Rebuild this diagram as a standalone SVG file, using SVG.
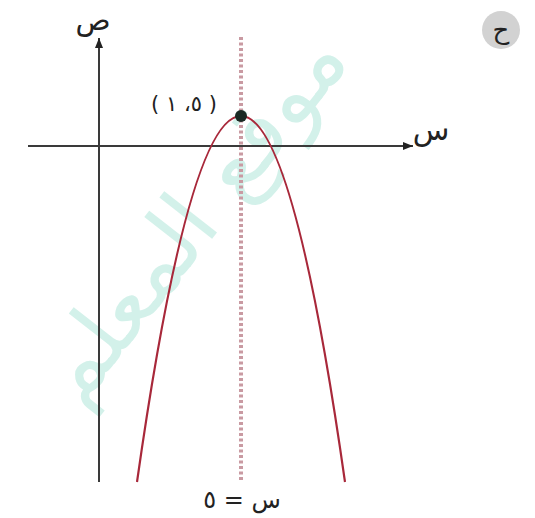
<svg xmlns="http://www.w3.org/2000/svg" width="535" height="518" viewBox="0 0 535 518">
  <style>
    .axis { stroke: #3a3a3a; stroke-width: 2; fill: none; }
    .curve { stroke: #a8283a; stroke-width: 2.2; fill: none; }
    .sym { stroke: #c99aa2; stroke-width: 4; stroke-dasharray: 3 2.5; fill: none; }
    .lbl { font-family: "DejaVu Sans", "Noto Sans", sans-serif; fill: #222; }
    .wm { font-family: "DejaVu Sans", sans-serif; fill: #d3f1ea; }
  </style>
  <defs>
    <marker id="arr" viewBox="0 0 10 10" refX="10" refY="5" markerWidth="10" markerHeight="10" markerUnits="userSpaceOnUse" orient="auto">
      <path d="M0,1 L10,5 L0,9 Z" fill="#222"/>
    </marker>
  </defs>
  <rect width="535" height="518" fill="#ffffff"/>
  <g id="watermark">
    <text class="wm" x="0" y="0" font-size="88" direction="rtl" text-anchor="middle" transform="translate(215,235) rotate(-52)">موقع المعلم</text>
  </g>
  <g id="connectors">
    <line id="x-axis" class="axis" x1="28" y1="146" x2="413" y2="146" marker-end="url(#arr)"/>
    <line id="y-axis" class="axis" x1="99" y1="482" x2="99" y2="38" marker-end="url(#arr)"/>
    <line id="symmetry" class="sym" x1="241" y1="37" x2="241" y2="481"/>
    <path id="parabola" class="curve" d="M137,482 Q241,-250 345,482"/>
  </g>
  <g id="vertex">
    <circle cx="241" cy="116" r="6" fill="#1a2a24"/>
    <text class="lbl" x="184" y="111" font-size="21" direction="rtl" text-anchor="middle">( ٥، ١ )</text>
  </g>
  <g id="y-label">
    <text class="lbl" x="93" y="30" font-size="29" text-anchor="middle">ص</text>
  </g>
  <g id="x-label">
    <text class="lbl" x="431" y="140" font-size="30" text-anchor="middle">س</text>
  </g>
  <g id="part-label">
    <circle cx="501" cy="30" r="19" fill="#d2d2d2"/>
    <text class="lbl" x="501" y="39" font-size="26" text-anchor="middle">ح</text>
  </g>
  <g id="axis-eq">
    <text class="lbl" x="242" y="508" font-size="24" direction="rtl" text-anchor="middle">س = ٥</text>
  </g>
</svg>
